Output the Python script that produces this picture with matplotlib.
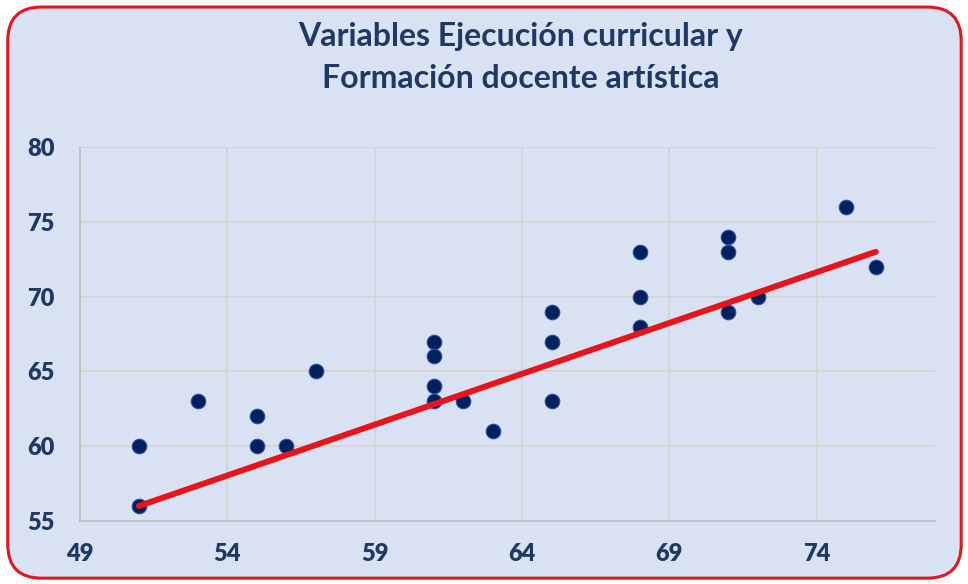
"""Scatter: Ejecución curricular vs Formación docente artística, with linear trend."""
import matplotlib
matplotlib.use("Agg")
import matplotlib.pyplot as plt
from matplotlib.patches import FancyBboxPatch

ejecucion = [51, 51, 53, 55, 55, 56, 57, 61, 61, 61, 61, 62, 63,
             65, 65, 65, 68, 68, 68, 71, 71, 71, 72, 75, 76]
formacion = [60, 56, 63, 62, 60, 60, 65, 67, 66, 64, 63, 63, 61,
             69, 67, 63, 73, 70, 68, 74, 73, 69, 70, 76, 72]
# trend line as drawn in the source chart
trend_x = [51, 76]
trend_y = [56, 73]
x_ticks = [49, 54, 59, 64, 69, 74]
y_ticks = [55, 60, 65, 70, 75, 80]
title = "Variables Ejecución curricular y\nFormación docente artística"

BG = "#D9E2F3"
NAVY = "#1F3864"
plt.rcParams["font.family"] = ["Lato", "DejaVu Sans"]

fig = plt.figure(figsize=(9.68, 5.84), dpi=100)
fig.patch.set_facecolor("white")
frame = FancyBboxPatch((0.008, 0.01), 0.985, 0.978, boxstyle="round,pad=0,rounding_size=0.035",
                       transform=fig.transFigure, facecolor=BG, edgecolor="#E3161B",
                       linewidth=2.2, mutation_aspect=968 / 584, zorder=-5)
fig.patches.append(frame)

ax = fig.add_axes([0.0826, 0.108, 0.883, 0.640])
ax.set_zorder(2)
ax.set_facecolor(BG)
ax.scatter(ejecucion, formacion, s=110, color="#002060", edgecolor="#2F4F9F",
           linewidth=0.8, zorder=3)
ax.plot(trend_x, trend_y, color="#E8141B", linewidth=4.3,
        solid_capstyle="round", zorder=4)

ax.set_xlim(49, 78)
ax.set_ylim(55, 80)
ax.set_xticks(x_ticks)
ax.set_yticks(y_ticks)
ax.grid(color="#D3D3CF", linewidth=1.2, zorder=0)
ax.set_axisbelow(True)
for side in ["top", "right"]:
    ax.spines[side].set_visible(False)
for side in ["left", "bottom"]:
    ax.spines[side].set_color("#BFBFBF")
    ax.spines[side].set_linewidth(1.3)
ax.tick_params(length=0, labelsize=17, labelcolor=NAVY)
ax.tick_params(axis="x", pad=16)
ax.tick_params(axis="y", pad=18)
for lbl in ax.get_xticklabels() + ax.get_yticklabels():
    lbl.set_fontweight("heavy")

fig.text(0.538, 0.962, title, ha="center", va="top", fontsize=23,
         fontweight="bold", color=NAVY, linespacing=1.55, zorder=3)

fig.savefig("out.png", dpi=100, facecolor=fig.get_facecolor())
